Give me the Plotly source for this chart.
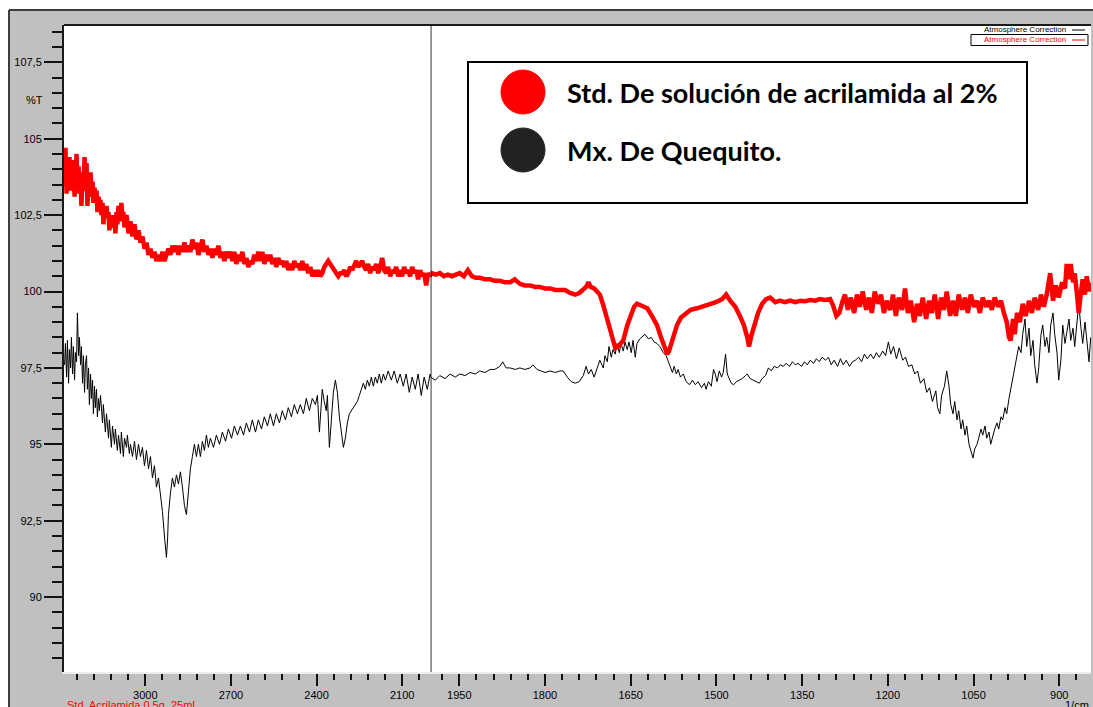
import plotly.graph_objects as go

# ---------------- data ----------------
# Mx. De Quequito (black trace): (wavenumber 1/cm, %T)
QUEQUITO = [
    (3283, 97.6), (3280, 98.3), (3276, 97.2), (3273, 98.4), (3269, 97.0), (3266, 98.1),
    (3262, 97.5), (3259, 98.5), (3255, 97.3), (3252, 98.2), (3248, 97.1), (3245, 98.0),
    (3241, 97.7), (3238, 99.3), (3234, 97.9), (3231, 98.5), (3227, 97.6), (3224, 98.2),
    (3220, 97.0), (3217, 97.9), (3213, 96.7), (3210, 97.6), (3206, 97.9), (3203, 96.8),
    (3199, 97.5), (3196, 96.3), (3192, 97.3), (3189, 96.5), (3185, 97.1), (3182, 96.0),
    (3178, 96.9), (3175, 96.2), (3171, 96.8), (3168, 95.9), (3164, 96.5), (3161, 96.1),
    (3157, 96.6), (3150, 95.7), (3147, 96.3), (3140, 95.4), (3136, 96.0), (3129, 95.2),
    (3126, 95.8), (3119, 94.9), (3115, 95.6), (3108, 95.0), (3105, 95.5), (3098, 94.8),
    (3094, 95.3), (3087, 94.7), (3084, 95.4), (3077, 94.6), (3073, 95.2), (3066, 94.9),
    (3063, 95.3), (3056, 94.7), (3052, 95.0), (3045, 94.6), (3038, 95.1), (3031, 94.5),
    (3024, 95.0), (3017, 94.6), (3010, 94.9), (3003, 94.3), (2996, 94.8), (2989, 94.2),
    (2982, 94.6), (2975, 93.9), (2968, 94.3), (2961, 93.6), (2954, 93.9), (2947, 93.4),
    (2940, 92.8), (2933, 92.0), (2929, 91.5), (2926, 91.3), (2922, 91.9), (2919, 92.7),
    (2912, 93.4), (2905, 93.9), (2898, 93.6), (2891, 94.0), (2884, 93.7), (2877, 94.1),
    (2870, 93.6), (2863, 93.0), (2856, 92.7), (2849, 93.4), (2842, 94.2), (2835, 94.6),
    (2828, 95.0), (2821, 94.6), (2814, 95.0), (2807, 94.6), (2800, 95.1), (2793, 94.8),
    (2786, 95.3), (2779, 94.9), (2772, 95.2), (2761, 94.9), (2751, 95.3), (2740, 95.0),
    (2730, 95.4), (2719, 95.1), (2709, 95.5), (2698, 95.2), (2688, 95.6), (2677, 95.3),
    (2667, 95.6), (2656, 95.3), (2646, 95.7), (2635, 95.4), (2625, 95.8), (2614, 95.4),
    (2604, 95.8), (2593, 95.5), (2583, 95.9), (2572, 95.6), (2562, 96.0), (2551, 95.6),
    (2541, 96.0), (2530, 95.7), (2520, 96.1), (2509, 95.8), (2499, 96.2), (2488, 95.9),
    (2478, 96.3), (2467, 96.0), (2457, 96.3), (2446, 96.0), (2436, 96.5), (2425, 96.1),
    (2415, 96.5), (2404, 96.3), (2397, 96.6), (2390, 95.4), (2383, 96.6), (2380, 96.8),
    (2373, 96.4), (2366, 96.1), (2362, 96.6), (2355, 94.9), (2348, 95.8), (2341, 96.7),
    (2334, 97.1), (2327, 96.7), (2320, 95.9), (2313, 95.3), (2306, 94.9), (2299, 95.2),
    (2292, 95.7), (2285, 96.0), (2278, 96.1), (2271, 96.2), (2264, 96.3), (2257, 96.4),
    (2250, 96.6), (2243, 96.8), (2236, 97.0), (2229, 96.8), (2222, 97.1), (2215, 96.9),
    (2208, 97.2), (2201, 96.9), (2194, 97.2), (2187, 97.0), (2180, 97.3), (2173, 97.0),
    (2166, 97.3), (2159, 97.1), (2149, 97.4), (2138, 97.1), (2128, 97.4), (2117, 97.0),
    (2107, 97.3), (2096, 96.9), (2086, 97.3), (2075, 96.7), (2065, 97.2), (2054, 96.8),
    (2044, 97.3), (2033, 96.6), (2023, 97.2), (2012, 96.8), (2002, 97.3),
    (2000, 97.2), (1992, 97.1), (1984, 97.25), (1975, 97.15), (1966, 97.3), (1957, 97.2),
    (1949, 97.3), (1940, 97.25), (1931, 97.35), (1922, 97.3), (1914, 97.4), (1905, 97.35),
    (1896, 97.45), (1888, 97.45), (1879, 97.55), (1874, 97.7), (1868, 97.5), (1861, 97.5),
    (1852, 97.45), (1844, 97.5), (1835, 97.45), (1826, 97.5), (1821, 97.6), (1814, 97.45),
    (1807, 97.4), (1800, 97.35), (1791, 97.4), (1782, 97.35), (1774, 97.4), (1768, 97.4),
    (1761, 97.2), (1754, 97.05), (1747, 97.0), (1740, 97.05), (1733, 97.25), (1728, 97.55),
    (1724, 97.3), (1719, 97.45), (1714, 97.2), (1709, 97.5), (1704, 97.75), (1698, 97.5),
    (1695, 97.9), (1691, 97.7), (1688, 98.2), (1684, 97.85), (1681, 98.1), (1677, 97.95),
    (1674, 98.3), (1670, 98.0), (1667, 98.3), (1663, 98.05), (1660, 98.35), (1656, 98.1),
    (1653, 98.35), (1649, 98.0), (1646, 98.4), (1642, 97.85), (1639, 98.3), (1634, 98.45),
    (1628, 98.55), (1625, 98.6), (1619, 98.45), (1614, 98.5), (1609, 98.35), (1604, 98.3),
    (1599, 98.2), (1593, 98.0), (1588, 97.9), (1584, 97.7), (1581, 97.6), (1577, 97.35),
    (1574, 97.55), (1570, 97.3), (1567, 97.45), (1563, 97.2), (1558, 97.3), (1553, 97.05),
    (1547, 96.95), (1542, 97.1), (1537, 96.95), (1532, 97.05), (1526, 96.85), (1521, 97.0),
    (1518, 96.8), (1514, 97.05), (1509, 96.9), (1505, 97.45), (1502, 97.3), (1499, 97.05),
    (1495, 97.4), (1491, 97.2), (1488, 97.35), (1484, 97.95), (1481, 97.3), (1477, 97.1),
    (1474, 97.0), (1470, 96.95), (1465, 97.05), (1460, 97.1), (1455, 97.15), (1449, 97.25),
    (1446, 97.3), (1441, 97.15), (1435, 97.1), (1430, 97.05), (1425, 97.0), (1420, 97.15),
    (1414, 97.25), (1409, 97.5), (1404, 97.4), (1399, 97.55), (1393, 97.5), (1388, 97.6),
    (1383, 97.55), (1378, 97.65), (1372, 97.55), (1367, 97.7), (1362, 97.6), (1357, 97.65),
    (1351, 97.55), (1346, 97.7), (1341, 97.6), (1336, 97.75), (1330, 97.65), (1325, 97.8),
    (1320, 97.7), (1315, 97.85), (1309, 97.75), (1304, 97.85), (1299, 97.6), (1294, 97.75),
    (1288, 97.55), (1283, 97.8), (1278, 97.6), (1273, 97.75), (1267, 97.55), (1262, 97.7),
    (1257, 97.75), (1251, 97.85), (1246, 97.7), (1241, 97.95), (1236, 97.8), (1230, 97.95),
    (1225, 97.8), (1220, 98.0), (1215, 97.85), (1209, 98.05), (1204, 97.9), (1199, 98.35),
    (1195, 97.95), (1190, 98.2), (1185, 97.8), (1180, 98.15), (1174, 97.75), (1169, 97.85),
    (1164, 97.55), (1158, 97.6), (1153, 97.3), (1148, 97.4), (1143, 97.0), (1137, 97.15),
    (1132, 96.7), (1127, 96.85), (1122, 96.4), (1116, 96.75), (1113, 96.2), (1109, 96.0),
    (1106, 96.6), (1101, 96.9), (1097, 97.4), (1093, 96.9), (1090, 96.3), (1086, 96.0),
    (1083, 96.4), (1079, 95.8), (1076, 96.1), (1072, 95.5), (1069, 95.8), (1065, 95.3),
    (1062, 95.6), (1058, 95.0), (1055, 94.8), (1051, 94.55), (1048, 94.85), (1044, 95.0),
    (1041, 95.2), (1037, 95.5), (1034, 95.3), (1030, 95.6), (1027, 95.2), (1023, 95.4),
    (1020, 95.0), (1016, 95.3), (1013, 95.5), (1009, 95.7), (1006, 95.5), (1002, 95.9),
    (999, 95.8), (995, 96.2), (992, 96.0), (988, 96.5), (985, 96.8), (981, 97.2),
    (978, 97.6), (974, 98.0), (971, 98.2), (967, 98.0), (964, 98.6), (960, 99.1),
    (957, 98.2), (953, 98.8), (950, 97.9), (946, 98.4), (943, 97.6), (939, 97.0),
    (936, 97.5), (932, 98.6), (929, 98.9), (925, 98.2), (922, 98.5), (918, 98.0),
    (915, 98.9), (911, 99.3), (908, 98.6), (904, 98.0), (901, 97.1), (897, 97.8),
    (894, 98.9), (890, 98.3), (887, 98.7), (883, 99.1), (880, 98.4), (876, 98.8),
    (873, 98.2), (869, 98.9), (866, 99.6), (862, 98.8), (859, 98.3), (855, 99.0),
    (852, 98.4), (848, 97.7), (845, 98.5),
]

# Std. De solución de acrilamida al 2% (red trace): (wavenumber 1/cm, %T)
ACRILAMIDA = [
    (3283, 103.4), (3280, 104.7), (3276, 103.2), (3273, 104.2), (3269, 103.6), (3266, 104.4),
    (3262, 103.3), (3259, 104.0), (3255, 103.5), (3252, 104.3), (3248, 103.1), (3245, 104.0),
    (3241, 104.5), (3238, 103.4), (3234, 104.1), (3231, 103.2), (3227, 103.9), (3224, 102.8),
    (3220, 103.8), (3217, 103.3), (3213, 104.4), (3210, 103.5), (3206, 104.2), (3203, 102.8),
    (3199, 103.6), (3196, 103.1), (3192, 103.9), (3189, 103.2), (3185, 103.6), (3182, 102.9),
    (3178, 103.4), (3175, 103.0), (3171, 103.3), (3168, 102.6), (3164, 103.1), (3161, 102.8),
    (3157, 103.0), (3154, 102.5), (3150, 102.9), (3147, 102.2), (3143, 102.8), (3140, 102.5),
    (3136, 102.8), (3133, 102.4), (3129, 102.6), (3126, 102.0), (3122, 102.4), (3119, 102.2),
    (3115, 102.5), (3112, 102.1), (3108, 102.3), (3105, 101.9), (3101, 102.6), (3098, 102.2),
    (3094, 102.8), (3087, 102.3), (3084, 102.9), (3080, 102.4), (3077, 102.6), (3073, 102.1),
    (3066, 102.5), (3059, 101.9), (3052, 102.3), (3045, 101.8), (3038, 102.2), (3031, 101.7),
    (3024, 102.0), (3017, 101.6), (3010, 101.8), (3003, 101.4), (2996, 101.6), (2989, 101.2),
    (2982, 101.4), (2975, 101.1), (2968, 101.3), (2961, 101.0), (2954, 101.2), (2947, 101.0),
    (2940, 101.3), (2933, 101.0), (2926, 101.2), (2919, 101.4), (2912, 101.2), (2905, 101.5),
    (2898, 101.3), (2891, 101.5), (2884, 101.2), (2877, 101.5), (2870, 101.3), (2863, 101.6),
    (2856, 101.3), (2849, 101.5), (2842, 101.3), (2835, 101.7), (2828, 101.4), (2821, 101.6),
    (2814, 101.2), (2807, 101.5), (2800, 101.7), (2793, 101.3), (2786, 101.5), (2779, 101.2),
    (2772, 101.4), (2765, 101.1), (2758, 101.4), (2751, 101.2), (2744, 101.5), (2737, 101.1),
    (2730, 101.3), (2723, 101.0), (2716, 101.3), (2709, 101.1), (2702, 101.3), (2695, 101.0),
    (2688, 101.3), (2681, 100.9), (2674, 101.2), (2667, 101.0), (2660, 101.3), (2653, 100.9),
    (2646, 101.1), (2639, 100.8), (2632, 101.0), (2625, 100.9), (2618, 101.2), (2611, 101.0),
    (2604, 101.3), (2597, 101.0), (2590, 101.3), (2583, 100.9), (2576, 101.2), (2569, 101.0),
    (2562, 101.2), (2555, 100.9), (2548, 101.1), (2541, 100.8), (2534, 101.1), (2527, 100.9),
    (2520, 101.0), (2513, 100.8), (2506, 101.0), (2499, 100.7), (2492, 100.9), (2485, 100.7),
    (2478, 101.0), (2471, 100.8), (2464, 100.9), (2457, 100.7), (2450, 101.0), (2443, 100.7),
    (2436, 100.9), (2429, 100.6), (2422, 100.8), (2415, 100.5), (2408, 100.7), (2401, 100.5),
    (2394, 100.7), (2387, 100.5), (2380, 100.6), (2373, 100.8), (2366, 100.9), (2359, 101.0),
    (2352, 100.9), (2345, 100.8), (2338, 100.7), (2331, 100.6), (2324, 100.5), (2317, 100.6),
    (2310, 100.6), (2303, 100.7), (2296, 100.5), (2289, 100.6), (2282, 100.8), (2275, 100.7),
    (2268, 100.9), (2261, 101.0), (2254, 100.8), (2247, 100.9), (2240, 101.0), (2233, 100.8),
    (2226, 100.7), (2219, 100.9), (2212, 100.6), (2205, 100.8), (2198, 100.7), (2191, 100.9),
    (2184, 100.6), (2177, 100.8), (2170, 101.1), (2163, 100.7), (2156, 100.6), (2149, 100.8),
    (2142, 100.5), (2135, 100.7), (2128, 100.6), (2121, 100.8), (2114, 100.5), (2107, 100.7),
    (2100, 100.5), (2093, 100.8), (2086, 100.6), (2079, 100.7), (2072, 100.5), (2065, 100.8),
    (2058, 100.6), (2051, 100.7), (2044, 100.4), (2037, 100.7), (2030, 100.5), (2023, 100.6),
    (2016, 100.2), (2009, 100.6), (2002, 100.5),
    (1998, 100.6), (1991, 100.55), (1984, 100.6), (1977, 100.5), (1970, 100.55), (1963, 100.5),
    (1956, 100.55), (1949, 100.6), (1942, 100.5), (1935, 100.7), (1928, 100.5), (1921, 100.45),
    (1914, 100.45), (1905, 100.4), (1896, 100.4), (1888, 100.35), (1879, 100.35), (1870, 100.3),
    (1861, 100.3), (1853, 100.4), (1844, 100.25), (1835, 100.2), (1826, 100.2), (1817, 100.15),
    (1809, 100.15), (1800, 100.1), (1791, 100.1), (1782, 100.05), (1774, 100.05), (1765, 100.05),
    (1756, 99.95), (1747, 99.9), (1740, 99.95), (1733, 100.05), (1728, 100.15), (1724, 100.3),
    (1720, 100.15), (1714, 100.1), (1709, 100.0), (1704, 99.9), (1698, 99.55), (1693, 99.2),
    (1686, 98.7), (1682, 98.4), (1677, 98.15), (1672, 98.2), (1663, 98.4), (1656, 98.9),
    (1651, 99.2), (1644, 99.5), (1639, 99.6), (1632, 99.55), (1621, 99.45), (1613, 99.2),
    (1604, 98.9), (1597, 98.5), (1592, 98.2), (1586, 97.95), (1583, 98.05), (1576, 98.5),
    (1569, 98.9), (1562, 99.15), (1553, 99.3), (1545, 99.4), (1534, 99.45), (1524, 99.5),
    (1511, 99.6), (1501, 99.65), (1490, 99.75), (1483, 99.9), (1476, 99.7), (1467, 99.5),
    (1459, 99.2), (1452, 98.9), (1446, 98.5), (1443, 98.2), (1439, 98.55), (1434, 98.9),
    (1427, 99.3), (1420, 99.6), (1413, 99.75), (1406, 99.8), (1397, 99.65), (1389, 99.7),
    (1380, 99.65), (1371, 99.7), (1362, 99.65), (1353, 99.7), (1345, 99.68), (1336, 99.72),
    (1327, 99.7), (1319, 99.75), (1310, 99.72), (1301, 99.75), (1296, 99.55), (1290, 99.2),
    (1285, 99.3), (1279, 99.7), (1275, 99.9), (1270, 99.4), (1265, 99.8), (1259, 99.3),
    (1254, 99.9), (1249, 99.5), (1244, 100.0), (1238, 99.4), (1233, 99.8), (1228, 99.3),
    (1223, 100.0), (1217, 99.6), (1212, 99.9), (1207, 99.3), (1202, 99.7), (1196, 99.4),
    (1191, 99.9), (1186, 99.2), (1181, 99.8), (1175, 99.4), (1170, 100.1), (1165, 99.3),
    (1160, 99.7), (1154, 99.0), (1149, 99.6), (1144, 99.2), (1139, 99.8), (1133, 99.1),
    (1128, 99.7), (1123, 99.3), (1118, 99.9), (1112, 99.1), (1107, 99.8), (1102, 99.4),
    (1097, 100.0), (1091, 99.2), (1086, 99.7), (1081, 99.2), (1076, 99.9), (1070, 99.4),
    (1065, 99.8), (1060, 99.3), (1055, 99.9), (1049, 99.5), (1044, 99.7), (1039, 99.3),
    (1034, 99.8), (1028, 99.5), (1023, 99.7), (1018, 99.4), (1013, 99.8), (1007, 99.5),
    (1002, 99.7), (997, 99.3), (992, 99.0), (988, 98.5), (985, 98.4), (981, 99.1),
    (978, 98.6), (974, 99.3), (969, 99.0), (964, 99.6), (959, 99.2), (953, 99.7),
    (948, 99.3), (943, 99.8), (937, 99.4), (932, 99.9), (927, 99.5), (922, 99.9),
    (916, 100.6), (911, 99.7), (906, 100.2), (901, 99.8), (895, 100.3), (890, 100.1),
    (887, 100.9), (883, 100.4), (880, 100.9), (876, 100.3), (873, 100.6), (869, 99.9),
    (866, 99.3), (862, 100.0), (859, 100.4), (855, 99.9), (852, 100.5), (848, 100.0),
    (846, 100.3),
]

# axis ticks (the wavenumber scale changes at 2000 1/cm)
X_HI_TICKS = [3000, 2700, 2400, 2100]
X_LO_TICKS = [1950, 1800, 1650, 1500, 1350, 1200, 1050, 900]
Y_TICKS = [90, 92.5, 95, 97.5, 100, 102.5, 105, 107.5]
Y_TICK_TEXT = ["90", "92,5", "95", "97,5", "100", "102,5", "105", "107,5"]

BREAK = 2000
X_HI_RANGE = [3285, BREAK]
X_LO_RANGE = [BREAK, 844.5]
Y_RANGE = [87.55, 108.72]

# ---------------- figure ----------------
W, H = 1093, 707
ML, MR, MT, MB = 64, 2, 25, 35
PW, PH = W - ML - MR, H - MT - MB
SPLIT = (430.7 - ML) / PW


def px(xp):
    return (xp - ML) / PW


def py(yp):
    return (H - MB - yp) / PH


def split(points):
    """Split a spectrum into the part above and below the scale break."""
    hi = [p for p in points if p[0] > BREAK]
    lo = [p for p in points if p[0] <= BREAK]
    hi = hi + lo[:1]
    lo = hi[-2:-1] + lo
    return hi, lo


fig = go.Figure()
for pts, color, width in [(QUEQUITO, "#000000", 1), (ACRILAMIDA, "#ff0000", 4.5)]:
    hi, lo = split(pts)
    for seg, xa in [(hi, "x"), (lo, "x2")]:
        fig.add_trace(go.Scatter(
            x=[p[0] for p in seg], y=[p[1] for p in seg],
            xaxis=xa, yaxis="y", mode="lines",
            line=dict(color=color, width=width), showlegend=False,
            hoverinfo="skip",
        ))

tick_font = dict(family="Liberation Sans, Arial, sans-serif", size=11, color="#000")
xcommon = dict(
    tickmode="array", ticks="outside", ticklen=12, tickwidth=2, tickcolor="#111",
    showgrid=False, zeroline=False, showline=True, linecolor="#ececec", linewidth=2,
    tickfont=tick_font, fixedrange=True,
)

fig.update_layout(
    width=W, height=H,
    margin=dict(l=ML, r=MR, t=MT, b=MB, pad=0),
    paper_bgcolor="#c0c0c0", plot_bgcolor="#ffffff",
    showlegend=False,
    xaxis=dict(domain=[0, SPLIT], range=X_HI_RANGE, tickvals=X_HI_TICKS,
               ticktext=[str(v) for v in X_HI_TICKS],
               minor=dict(tickmode="linear", tick0=3000, dtick=60, ticks="outside",
                          ticklen=6, tickwidth=2, tickcolor="#111"),
               anchor="y", **xcommon),
    xaxis2=dict(domain=[SPLIT, 1], range=X_LO_RANGE, tickvals=X_LO_TICKS,
                ticktext=[str(v) for v in X_LO_TICKS],
                minor=dict(tickmode="linear", tick0=900, dtick=30, ticks="outside",
                           ticklen=6, tickwidth=2, tickcolor="#111"),
                anchor="y", **xcommon),
    yaxis=dict(range=Y_RANGE, tickmode="array", tickvals=Y_TICKS, ticktext=Y_TICK_TEXT,
               ticks="outside", ticklen=18, tickwidth=2, tickcolor="#111",
               minor=dict(tickmode="linear", tick0=90, dtick=0.5, ticks="outside",
                          ticklen=10, tickwidth=2, tickcolor="#111"),
               showgrid=False, zeroline=False, showline=True, linecolor="#1a1a1a",
               linewidth=2, tickfont=tick_font, anchor="x", fixedrange=True),
)

shapes = [
    # white page outside the instrument panel
    dict(type="rect", xref="paper", yref="paper", x0=px(-5), x1=px(9), y0=py(H + 5), y1=py(-5),
         fillcolor="white", line=dict(width=0), layer="below"),
    dict(type="rect", xref="paper", yref="paper", x0=px(-5), x1=px(W + 5), y0=py(10), y1=py(-5),
         fillcolor="white", line=dict(width=0), layer="below"),
    dict(type="line", xref="paper", yref="paper", x0=px(9), x1=px(9), y0=py(10), y1=py(H + 5),
         line=dict(color="#3c3c3c", width=2)),
    dict(type="line", xref="paper", yref="paper", x0=px(9), x1=px(W + 5), y0=py(10), y1=py(10),
         line=dict(color="#3c3c3c", width=2)),
    # top border of the plotting area
    dict(type="line", xref="paper", yref="paper", x0=0, x1=1, y0=1, y1=1,
         line=dict(color="#1a1a1a", width=2)),
    # scale-change marker at 2000 1/cm
    dict(type="line", xref="x2", yref="paper", x0=BREAK, x1=BREAK, y0=0, y1=1,
         line=dict(color="#000000", width=1.5)),
    # legend box
    dict(type="rect", xref="paper", yref="paper", x0=px(468), x1=px(1027), y0=py(203), y1=py(62),
         fillcolor="white", line=dict(color="#000", width=2)),
    dict(type="circle", xref="paper", yref="paper", x0=px(501), x1=px(545), y0=py(114), y1=py(70),
         fillcolor="#ff0000", line=dict(color="#ff0000", width=1)),
    dict(type="circle", xref="paper", yref="paper", x0=px(501), x1=px(545), y0=py(172), y1=py(128),
         fillcolor="#222222", line=dict(color="#222222", width=1)),
    # instrument trace legend (top right)
    dict(type="line", xref="paper", yref="paper", x0=px(1072), x1=px(1085), y0=py(30), y1=py(30),
         line=dict(color="#000", width=1)),
    dict(type="rect", xref="paper", yref="paper", x0=px(971), x1=px(1088), y0=py(45.5), y1=py(34.5),
         fillcolor="rgba(0,0,0,0)", line=dict(color="#000", width=1)),
    dict(type="line", xref="paper", yref="paper", x0=px(1072), x1=px(1085), y0=py(40), y1=py(40),
         line=dict(color="#ff0000", width=1)),
]
fig.update_layout(shapes=shapes)

legend_font = dict(family="Lato, Carlito, Calibri, sans-serif", size=27, color="#000")
small = dict(family="Liberation Sans, Arial, sans-serif", size=8)
annotations = [
    dict(text="%T", x=px(34), y=py(100), xref="paper", yref="paper", showarrow=False,
         xanchor="center", yanchor="middle", font=tick_font),
    dict(text="<b>Std. De solución de acrilamida al 2%</b>", x=px(565), y=py(92),
         xref="paper", yref="paper", showarrow=False, xanchor="left", yanchor="middle",
         font=legend_font),
    dict(text="<b>Mx. De Quequito.</b>", x=px(565), y=py(150),
         xref="paper", yref="paper", showarrow=False, xanchor="left", yanchor="middle",
         font=legend_font),
    dict(text="Atmosphere Correction", x=px(1068), y=py(30), xref="paper", yref="paper",
         showarrow=False, xanchor="right", yanchor="middle", font=dict(color="#000", **small)),
    dict(text="Atmosphere Correction", x=px(1068), y=py(40), xref="paper", yref="paper",
         showarrow=False, xanchor="right", yanchor="middle", font=dict(color="#ff0000", **small)),
    dict(text="Std. Acrilamida 0,5g. 25mL", x=px(65), y=py(697), xref="paper", yref="paper",
         showarrow=False, xanchor="left", yanchor="top",
         font=dict(family="Liberation Sans, Arial, sans-serif", size=11, color="#ff0000")),
    dict(text="1/cm", x=px(1091), y=py(697), xref="paper", yref="paper",
         showarrow=False, xanchor="right", yanchor="top", font=tick_font),
]
fig.update_layout(annotations=annotations)

fig.write_html("out.html", config={"displayModeBar": False})
